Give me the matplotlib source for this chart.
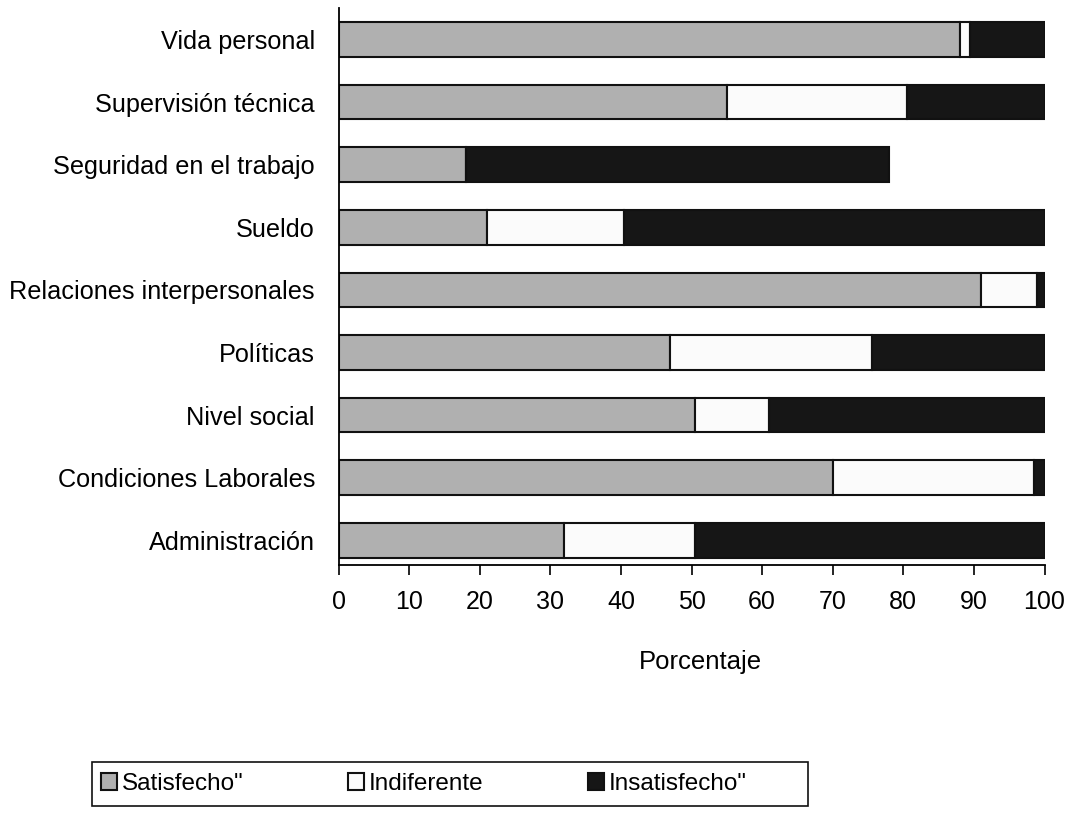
import matplotlib
matplotlib.use("Agg")
import matplotlib.pyplot as plt
from matplotlib.patches import Rectangle
import numpy as np

plt.rcParams['font.family'] = ['Liberation Sans', 'DejaVu Sans']

categorias = ["Administración", "Condiciones Laborales", "Nivel social", "Políticas",
              "Relaciones interpersonales", "Sueldo", "Seguridad en el trabajo",
              "Supervisión técnica", "Vida personal"]
satisfecho = [32, 70, 50.5, 47, 91, 21, 18, 55, 88]
indiferente = [18.5, 28.5, 10.5, 28.5, 8, 19.5, 0, 25.5, 1.5]
insatisfecho = [49.5, 1.5, 39, 24.5, 1, 59.5, 60, 19.5, 10.5]
xticks = [0, 10, 20, 30, 40, 50, 60, 70, 80, 90, 100]

fig = plt.figure(figsize=(10.68, 8.17), dpi=100)
ax = fig.add_axes([0.317, 0.308, 0.661, 0.682])

y = np.arange(len(categorias))
sat = np.array(satisfecho)
ind = np.array(indiferente)
ins = np.array(insatisfecho)
h = 0.55
ax.barh(y, sat, height=h, color="#b0b0b0", edgecolor="#111111", linewidth=1.5,
        label='Satisfecho"')
ax.barh(y, ind, left=sat, height=h, color="#fbfbfb", edgecolor="#111111", linewidth=1.5,
        label="Indiferente")
ax.barh(y, ins, left=sat + ind, height=h, color="#161616", edgecolor="#111111",
        linewidth=1.5, label='Insatisfecho"')

ax.set_xlim(0, 100)
ax.set_ylim(-0.4, 8.5)
ax.set_xticks(xticks)
ax.set_xticklabels([str(t) for t in xticks], fontsize=18)
ax.set_yticks(y)
ax.set_yticklabels(categorias, fontsize=18.2)
ax.tick_params(axis="y", length=0, pad=17)
ax.tick_params(axis="x", direction="out", length=7, width=1.2, pad=11)
for s in ("top", "right"):
    ax.spines[s].set_visible(False)
ax.spines["left"].set_linewidth(1.3)
ax.spines["bottom"].set_linewidth(1.3)
ax.set_xlabel("Porcentaje", fontsize=18.5)
ax.xaxis.set_label_coords(0.513, -0.174)
ax.xaxis.label.set_verticalalignment("center")

# legend entries without frame, boxed by a wider rectangle
handles, labels = ax.get_legend_handles_labels()
leg = fig.legend(handles, labels, loc="center left", bbox_to_anchor=(0.0946, 0.0404),
                 ncol=3, fontsize=17.5, frameon=False, handlelength=0.66,
                 handleheight=0.66, handletextpad=0.2, columnspacing=4.3,
                 borderpad=0, borderaxespad=0)
fig.patches.append(Rectangle((92 / 1068, 11 / 817), (808 - 92) / 1068, 44 / 817,
                             transform=fig.transFigure, fill=False,
                             edgecolor="#111111", linewidth=1.2))

fig.savefig("out.png", dpi=100, facecolor="white")
